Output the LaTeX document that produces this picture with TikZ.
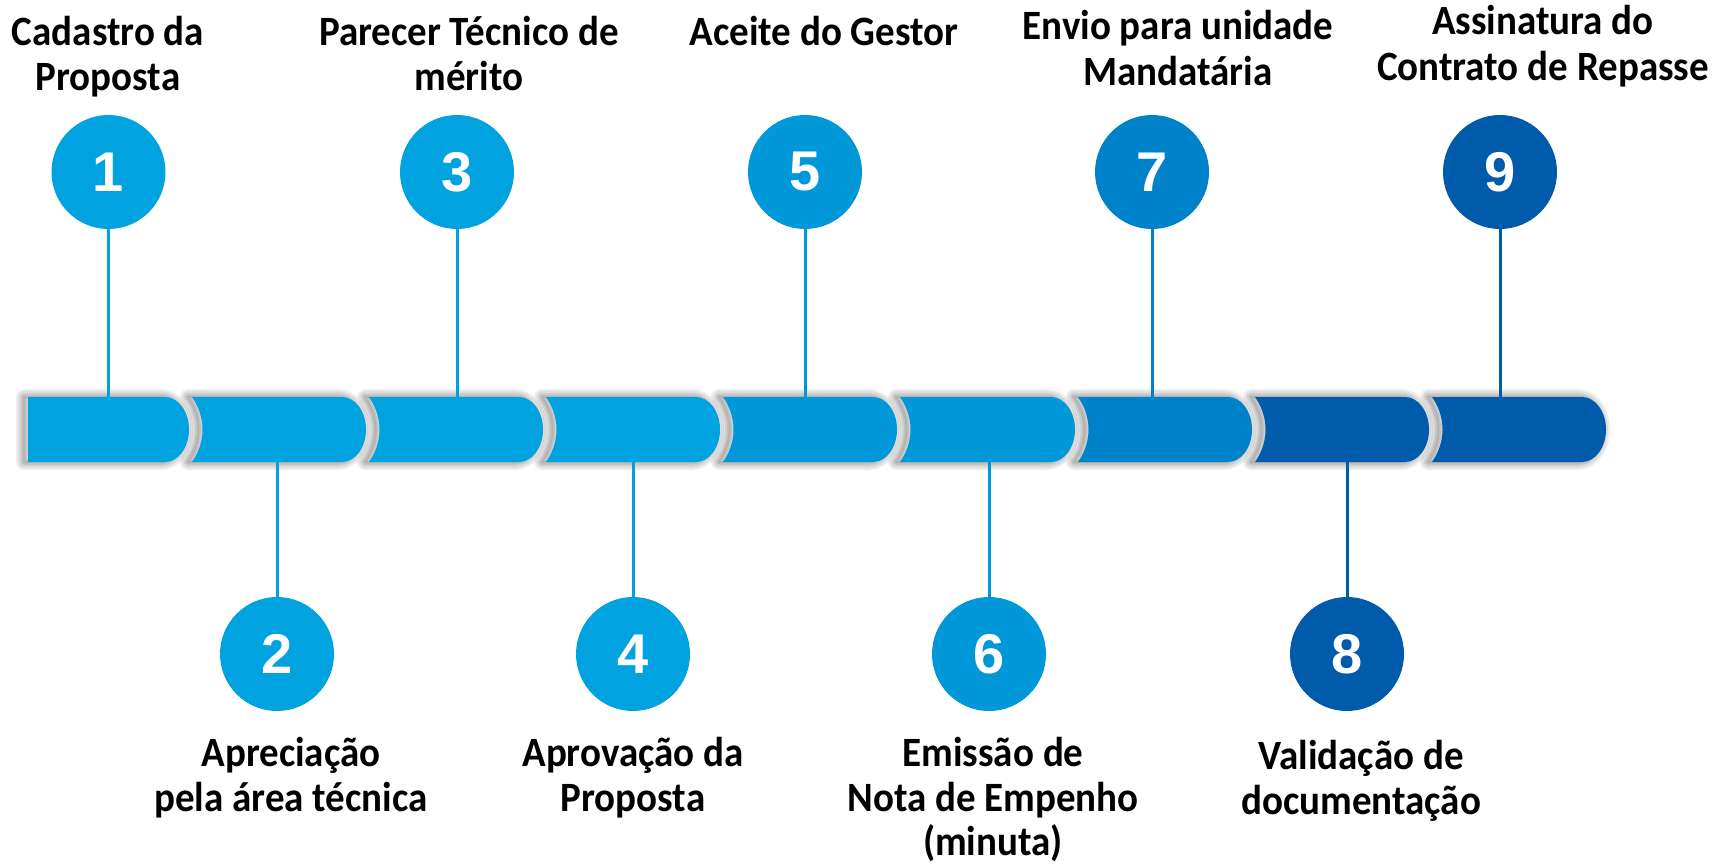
\documentclass[tikz,border=0pt]{standalone}
\usepackage{fontspec}
\usepackage{graphicx}
\setmainfont{Carlito}
\newfontfamily\numfont{Liberation Sans}
\definecolor{cA}{RGB}{0,163,224}
\definecolor{cB}{RGB}{0,152,216}
\definecolor{cC}{RGB}{0,130,202}
\definecolor{cD}{RGB}{0,91,170}
\newcommand\segpath[2]{(#1,397) -- ({#2-24},397) .. controls ({#2-10.75},397) and (#2,411.55) .. (#2,429.5) .. controls (#2,447.45) and ({#2-10.75},462) .. ({#2-24},462) -- (#1,462) .. controls ({#1+14},442) and ({#1+14},417) .. (#1,397) -- cycle}
\newcommand\firstsegpath[2]{(#1,397) -- ({#2-24},397) .. controls ({#2-10.75},397) and (#2,411.55) .. (#2,429.5) .. controls (#2,447.45) and ({#2-10.75},462) .. ({#2-24},462) -- (#1,462) -- cycle}
\newcommand\tall[1]{\scalebox{1}[1.07]{#1}}
\tikzset{
  shadowline/.style={draw=black, draw opacity=0.065, fill=none, line join=round, xshift=-4pt},
  num/.style={circle, inner sep=0pt, minimum size=114pt, text=white, font=\numfont\bfseries\fontsize{56}{56}\selectfont},
  lbl/.style={anchor=base, inner sep=0pt, font=\bfseries\fontsize{39}{45}\selectfont},
  stem/.style={line width=3pt}
}
\begin{document}
\begin{tikzpicture}[x=1pt,y=-1pt]
\useasboundingbox (0,0) rectangle (1718,864);
% segment 1
\foreach \w in {16,12,8,5,2}{\path[shadowline, line width=\w pt] \firstsegpath{28}{189};}
\fill[cA] \firstsegpath{28}{189};
% segments 2..9
\foreach \L/\R/\c in {192/366/cA,369/543/cA,546/720/cA,723/897/cB,900/1075/cB,1078/1252/cC,1255/1429/cD,1432/1606/cD}{
  \foreach \w in {16,12,8,5,2}{\path[shadowline, line width=\w pt] \segpath{\L}{\R};}
  \fill[\c] \segpath{\L}{\R};
}
% circles
\node[num, fill=cA] (c1) at (108.5,172) {1};
\node[num, fill=cA] (c2) at (277,654) {2};
\node[num, fill=cA] (c3) at (457,172) {3};
\node[num, fill=cA] (c4) at (633,654) {4};
\node[num, fill=cB] (c5) at (805,172) {5};
\node[num, fill=cB] (c6) at (989,654) {6};
\node[num, fill=cC] (c7) at (1152,172) {7};
\node[num, fill=cD] (c8) at (1347,654) {8};
\node[num, fill=cD] (c9) at (1500,172) {9};
% stem end points on the bar
\coordinate (t1) at (108.5,397);
\coordinate (t2) at (277,462);
\coordinate (t3) at (457,397);
\coordinate (t4) at (633,462);
\coordinate (t5) at (805,397);
\coordinate (t6) at (989,462);
\coordinate (t7) at (1152,397);
\coordinate (t8) at (1347,462);
\coordinate (t9) at (1500,397);
\draw[stem, cA] (c1.south) -- (t1);
\draw[stem, cA] (c2.north) -- (t2);
\draw[stem, cA] (c3.south) -- (t3);
\draw[stem, cA] (c4.north) -- (t4);
\draw[stem, cB] (c5.south) -- (t5);
\draw[stem, cB] (c6.north) -- (t6);
\draw[stem, cC] (c7.south) -- (t7);
\draw[stem, cD] (c8.north) -- (t8);
\draw[stem, cD] (c9.south) -- (t9);
% labels
\node[lbl] (l1a) at (108,46) {\tall{Cadastro da}};
\node[lbl] (l1b) at (108,91) {\tall{Proposta}};
\node[lbl] (l3a) at (469,46) {\tall{Parecer Técnico de}};
\node[lbl] (l3b) at (469,91) {\tall{mérito}};
\node[lbl] (l5a) at (824,46) {\tall{Aceite do Gestor}};
\node[lbl] (l7a) at (1178,40) {\tall{Envio para unidade}};
\node[lbl] (l7b) at (1178,86) {\tall{Mandatária}};
\node[lbl] (l9a) at (1543,35) {\tall{Assinatura do}};
\node[lbl] (l9b) at (1543,81) {\tall{Contrato de Repasse}};
\node[lbl] (l2a) at (291,766) {\tall{Apreciação}};
\node[lbl] (l2b) at (291,811) {\tall{pela área técnica}};
\node[lbl] (l4a) at (633,766) {\tall{Aprovação da}};
\node[lbl] (l4b) at (633,811) {\tall{Proposta}};
\node[lbl] (l6a) at (993,766) {\tall{Emissão de}};
\node[lbl] (l6b) at (993,811) {\tall{Nota de Empenho}};
\node[lbl] (l6c) at (993,855) {\tall{(minuta)}};
\node[lbl] (l8a) at (1361,769) {\tall{Validação de}};
\node[lbl] (l8b) at (1361,814) {\tall{documentação}};
\end{tikzpicture}
\end{document}
